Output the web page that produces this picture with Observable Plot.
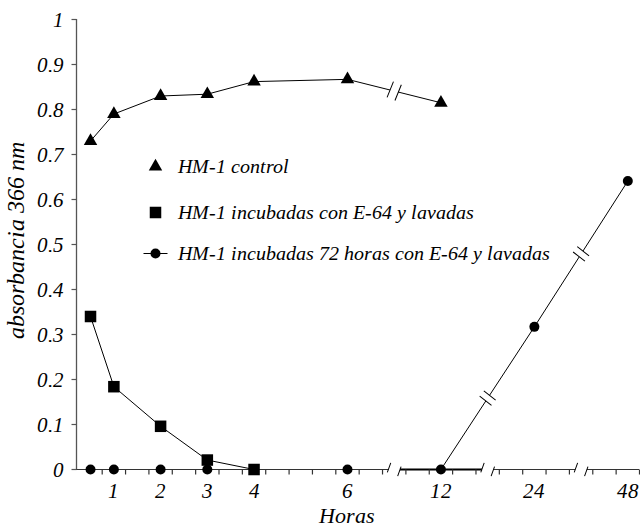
<!DOCTYPE html>
<html>
<head>
<meta charset="utf-8">
<script src="https://cdn.jsdelivr.net/npm/d3@7"></script>
<script src="https://cdn.jsdelivr.net/npm/@observablehq/plot@0.6"></script>
<style>
  @font-face { font-family: "ChartSerif"; font-style: italic; font-weight: 400;
    src: local("Liberation Serif Italic"), local("LiberationSerif-Italic"), local("Times New Roman Italic"); }
  @font-face { font-family: "ChartSerif"; font-style: normal; font-weight: 400;
    src: local("Liberation Serif"), local("LiberationSerif"), local("Times New Roman"); }
  html, body { margin: 0; padding: 0; background: #fff; }
  #chart svg { display: block; }
  #chart svg text { font-family: "ChartSerif", "Liberation Serif", "Times New Roman", serif; font-style: italic; }
</style>
</head>
<body>
<div id="chart"></div>
<script>
// ---- data ----
const controlHours = [0.5, 1, 2, 3, 4, 6, 12];
const controlValues = [0.73, 0.79, 0.83, 0.834, 0.862, 0.867, 0.815];

const e64Hours = [0.5, 1, 2, 3, 4];
const e64Values = [0.34, 0.184, 0.096, 0.021, 0.0];

const e64h72Hours = [0.5, 1, 2, 3, 4, 6, 12, 24, 48];
const e64h72Values = [0, 0, 0, 0, 0, 0, 0, 0.317, 0.641];

const xTickHours = [1, 2, 3, 4, 6, 12, 24, 48];
const xTickLabels = ["1", "2", "3", "4", "6", "12", "24", "48"];
const yTicks = [0, 0.1, 0.2, 0.3, 0.4, 0.5, 0.6, 0.7, 0.8, 0.9, 1];
const yTickLabels = ["0", "0.1", "0.2", "0.3", "0.4", "0.5", "0.6", "0.7", "0.8", "0.9", "1"];

const seriesNames = [
  "HM-1 control",
  "HM-1 incubadas con E-64 y lavadas",
  "HM-1 incubadas 72 horas con E-64 y lavadas"
];
const xLabel = "Horas";
const yLabel = "absorbancia 366 nm";

// ---- broken axis: linear up to 6 h, then equal steps per doubling ----
const u = h => h <= 6 ? h : 6 + 2 * Math.log2(h / 6);
const breakPairs = [[6, 12], [12, 24], [24, 48]];
const breakU = breakPairs.map(([a, b]) => (u(a) + u(b)) / 2);
const xMin = 0.2, xMax = 12.25;

const rows = (hs, vs) => hs.map((h, i) => ({h, x: u(h), v: vs[i]}));
const control = rows(controlHours, controlValues);
const e64 = rows(e64Hours, e64Values);
const e64h72 = rows(e64h72Hours, e64h72Values);

function interp(series, a, b) {
  const p = series.find(d => d.h === a), q = series.find(d => d.h === b);
  return {x: (p.x + q.x) / 2, v: (p.v + q.v) / 2};
}
const controlBreaks = [interp(control, 6, 12)];
const e64h72Breaks = [interp(e64h72, 12, 24), interp(e64h72, 24, 48)];
const axisBreaks = breakU.map(x => ({x, v: 0}));

const minorTicks = d3.range(0.75, xMax + 0.01, 0.5);

// ---- custom symbols ----
function breakLines(ratio) {
  return {draw(ctx, size) {
    const r = Math.sqrt(size / Math.PI), g = r * ratio;
    ctx.moveTo(-g, -r); ctx.lineTo(-g, r);
    ctx.moveTo(g, -r); ctx.lineTo(g, r);
  }};
}
function breakGap(ratio) {
  return {draw(ctx, size) {
    const r = Math.sqrt(size / Math.PI), g = r * ratio, h = r * 0.6;
    ctx.moveTo(-g, -h); ctx.lineTo(g, -h); ctx.lineTo(g, h); ctx.lineTo(-g, h); ctx.closePath();
  }};
}
const hline = {draw(ctx, size) {
  const r = Math.sqrt(size / Math.PI);
  ctx.moveTo(-r, 0); ctx.lineTo(r, 0);
}};
const leftTick = {draw(ctx, size) {
  const r = Math.sqrt(size / Math.PI);
  ctx.moveTo(0, 0); ctx.lineTo(-r, 0);
}};
const downTick = {draw(ctx, size) {
  const r = Math.sqrt(size / Math.PI);
  ctx.moveTo(0, 0); ctx.lineTo(0, r);
}};

const axisColor = "#555";
const font = "ChartSerif, Liberation Serif, Times New Roman, serif";
const txt = {fill: "black", fontFamily: font, fontStyle: "italic"};

const legendSymbols = ["triangle", "square", "circle"];
const legendR = [5, 6.5, 5];
const legendDy = [147, 193, 234];

function draw() {
  const chart = Plot.plot({
    width: 640,
    height: 529,
    marginLeft: 76,
    marginRight: 1,
    marginTop: 19,
    marginBottom: 60,
    x: {domain: [xMin, xMax], axis: null},
    y: {domain: [0, 1], axis: null},
    style: {fontFamily: font, fontStyle: "italic"},
    marks: [
      // axes
      Plot.ruleX([xMin], {y1: 0, y2: 1, stroke: axisColor, strokeWidth: 1.3}),
      Plot.ruleY([0], {x1: xMin, x2: xMax, stroke: "#333", strokeWidth: 1.2}),
      Plot.ruleY([0], {x1: breakU[0], x2: breakU[1], stroke: "black", strokeWidth: 2}),
      Plot.dot(yTicks, {x: xMin, y: d => d, symbol: leftTick, r: 5, stroke: axisColor, strokeWidth: 1.2}),
      Plot.text(yTicks, {x: xMin, y: d => d, text: (d, i) => yTickLabels[i], dx: -13, dy: 1, textAnchor: "end", fontSize: 21, ...txt}),
      Plot.dot(minorTicks, {x: d => d, y: 0, symbol: downTick, r: 5, stroke: "#333", strokeWidth: 1.2}),
      Plot.text(xTickHours, {x: u, y: 0, text: (d, i) => xTickLabels[i], dy: 22, fontSize: 21, ...txt}),

      // series lines
      Plot.line(control, {x: "x", y: "v", stroke: "black", strokeWidth: 1}),
      Plot.line(e64, {x: "x", y: "v", stroke: "black", strokeWidth: 1}),
      Plot.line(e64h72.filter(d => d.h >= 12), {x: "x", y: "v", stroke: "black", strokeWidth: 1}),

      // break marks
      Plot.dot(axisBreaks, {x: "x", y: "v", symbol: breakGap(1.1), r: 5, fill: "white", stroke: "none", rotate: 20}),
      Plot.dot(axisBreaks, {x: "x", y: "v", symbol: breakLines(1.1), r: 5, fill: "none", stroke: "black", strokeWidth: 1, rotate: 20}),
      Plot.dot(controlBreaks, {x: "x", y: "v", symbol: breakGap(0.5), r: 8.5, fill: "white", stroke: "none", rotate: 22}),
      Plot.dot(controlBreaks, {x: "x", y: "v", symbol: breakLines(0.5), r: 8.5, fill: "none", stroke: "black", strokeWidth: 1, rotate: 22}),
      Plot.dot(e64h72Breaks, {x: "x", y: "v", symbol: breakGap(0.45), r: 7.5, fill: "white", stroke: "none", rotate: -52}),
      Plot.dot(e64h72Breaks, {x: "x", y: "v", symbol: breakLines(0.45), r: 7.5, fill: "none", stroke: "black", strokeWidth: 1, rotate: -52}),

      // markers
      Plot.dot(e64h72, {x: "x", y: "v", symbol: "circle", r: 5, fill: "black"}),
      Plot.dot(e64, {x: "x", y: "v", symbol: "square", r: 6.5, fill: "black"}),
      Plot.dot(control, {x: "x", y: "v", symbol: "triangle", r: 5, fill: "black"}),

      // legend
      Plot.dot([0], {frameAnchor: "top-left", dx: 79, dy: legendDy[2], symbol: hline, r: 12, stroke: "black", fill: "none", strokeWidth: 1}),
      ...seriesNames.map((name, i) => Plot.dot([name], {frameAnchor: "top-left", dx: 79, dy: legendDy[i],
        symbol: legendSymbols[i], r: legendR[i], fill: "black"})),
      ...seriesNames.map((name, i) => Plot.text([name], {frameAnchor: "top-left", dx: 101, dy: legendDy[i],
        text: d => d, textAnchor: "start", lineAnchor: "middle", fontSize: 20, ...txt})),

      // axis titles
      Plot.text([xLabel], {frameAnchor: "bottom", text: d => d, dx: -11, dy: 46, lineAnchor: "middle", textAnchor: "middle", fontSize: 22, ...txt}),
      Plot.text([yLabel], {frameAnchor: "left", text: d => d, dx: -60, dy: -4, rotate: -90, lineAnchor: "middle", textAnchor: "middle", fontSize: 24, ...txt})
    ]
  });
  chart.querySelectorAll("text").forEach(t => {
    t.style.fontFamily = "ChartSerif, 'Liberation Serif', 'Times New Roman', serif";
    t.style.fontStyle = "italic";
  });
  document.getElementById("chart").append(chart);
}
draw();
</script>
</body>
</html>
